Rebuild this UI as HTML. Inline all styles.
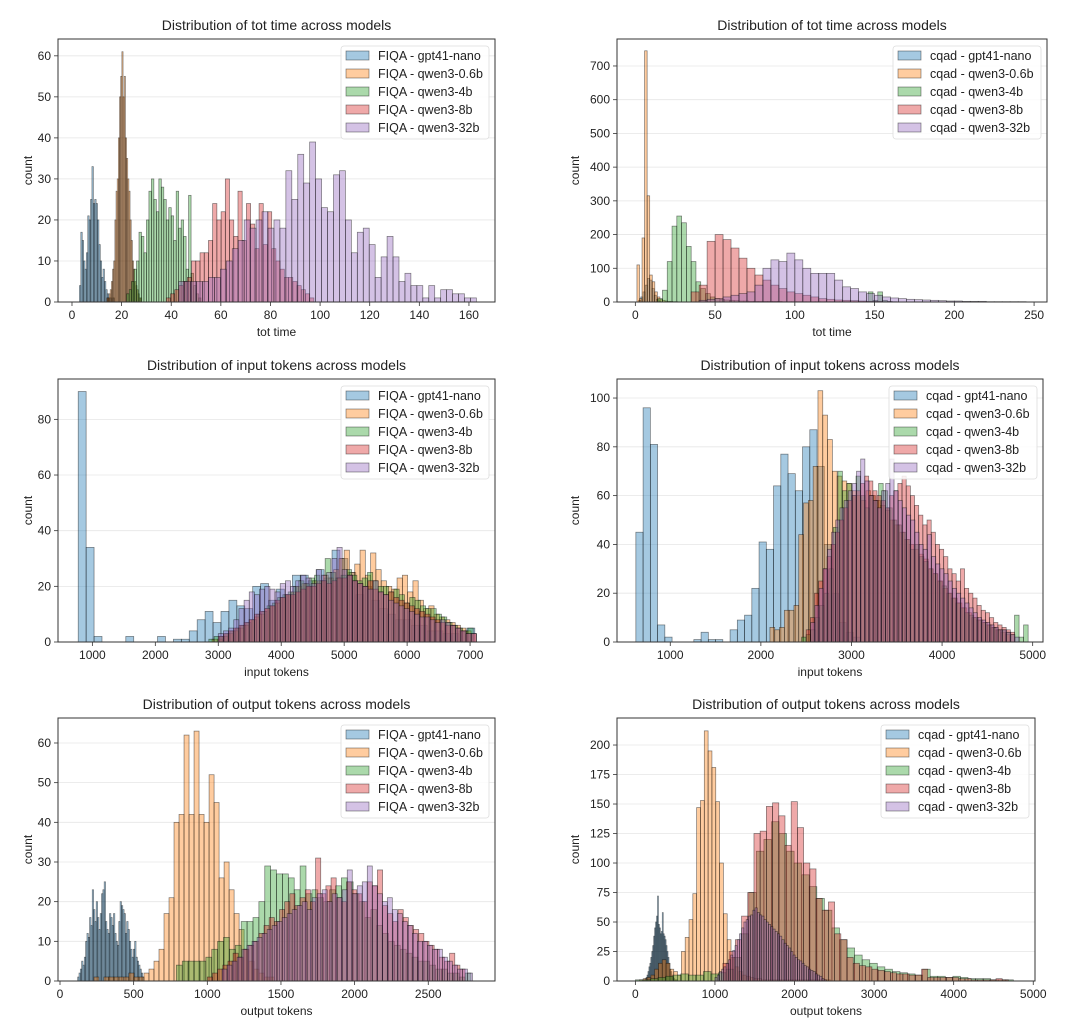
<!DOCTYPE html>
<html><head><meta charset="utf-8">
<style>
html,body{margin:0;padding:0;background:#fff;}
svg{display:block;font-family:"Liberation Sans","DejaVu Sans",sans-serif;}
</style></head>
<body>
<svg id="fig" width="1080" height="1027" viewBox="0 0 1080 1027"></svg>
<script>
// ---- tick labels ----
const p1Ticks = [0,20,40,60,80,100,120,140,160];
const p1YTicks = [0,10,20,30,40,50,60];
const p2Ticks = [0,50,100,150,200,250];
const p2YTicks = [0,100,200,300,400,500,600,700];
const p3Ticks = [1000,2000,3000,4000,5000,6000,7000];
const p3YTicks = [0,20,40,60,80];
const p4Ticks = [1000,2000,3000,4000,5000];
const p4YTicks = [0,20,40,60,80,100];
const p5Ticks = [0,500,1000,1500,2000,2500];
const p5YTicks = [0,10,20,30,40,50,60];
const p6Ticks = [0,1000,2000,3000,4000,5000];
const p6YTicks = [0,25,50,75,100,125,150,175,200];

const models = ["gpt41-nano","qwen3-0.6b","qwen3-4b","qwen3-8b","qwen3-32b"];

// ---- series: bin start, bin width, counts ----
const fiqaTimeStart = [3, 14, 22, 38, 43];
const fiqaTimeWidth = [0.56, 0.47, 1, 1.7, 2.4];
const fiqaTimeNano = [4,17,15,10,8,12,21,20,25,33,24,25,24,20,14,10,6,8,5,3,2,1,1,0,1];
const fiqaTime06 = [1,1,2,3,5,8,10,20,27,30,40,50,55,61,50,55,40,35,30,27,20,15,10,8,5,4,3,2,1,1];
const fiqaTime4 = [2,3,5,8,10,17,16,12,20,27,30,25,22,30,28,25,20,23,21,15,27,18,20,16,8,26,7,4,2,1];
const fiqaTime8 = [1,2,3,4,5,6,10,10,12,12,15,24,20,22,30,20,16,27,15,24,19,13,24,14,22,13,10,8,6,6,5,4,3,2,1];
const fiqaTime32 = [5,5,5,5,5,6,6,8,10,13,15,20,18,20,22,18,20,18,32,25,36,29,39,30,23,22,31,32,20,12,17,18,14,6,11,16,11,5,7,4,4,1,4,1,3,3,2,2,1,1];
const cqadTimeStart = [2, 1, 14, 35, 40];
const cqadTimeWidth = [1.4, 1.6, 3, 5, 5];
const cqadTimeNano = [5,15,30,50,70,65,40,20,8,3];
const cqadTime06 = [110,10,190,745,315,80,60,30,15,8,5,3,2,2,1,1];
const cqadTime4 = [10,35,120,225,255,235,165,120,60,40,25,15,10,8,6,5,4,3,3,2,2,2,2,2,2,2,1,1,1,1,1,1,1,1,1,1,1,1,1,1,1,1,1,1,30,5,30,5,2,1];
const cqadTime8 = [30,50,180,200,185,160,130,100,80,65,50,40,30,25,20,15,10,8,6,5,4,3,2,2,1];
const cqadTime32 = [5,8,10,15,20,25,30,50,100,125,120,145,125,100,85,85,85,65,45,40,30,25,20,15,12,10,8,7,6,5,4,3,3,2,2,2,1,1,1,1,1];
const fiqaInStart = [775, 2900, 2850, 3000, 3000];
const fiqaInWidth = [126, 84, 84, 82, 82];
const fiqaInNano = [90,34,2,0,0,0,2,0,0,0,2,0,1,1,4,8,11,7,11,15,13,12,20,21,15,19,17,24,24,22,26,23,33,30,25,17,20,15,12,10,8,8,6,6,4,4,3,3,4,5];
const fiqaIn06 = [1,1,2,3,4,5,6,8,9,10,12,13,14,16,17,18,20,21,20,22,22,24,23,26,30,33,25,28,33,24,32,26,22,20,19,23,24,18,22,15,12,13,10,9,8,7,6,5,4,3];
const fiqaIn4 = [1,2,2,3,4,5,6,7,8,10,11,13,14,16,17,18,20,22,21,23,24,22,30,25,23,24,26,24,22,23,25,22,20,20,18,19,17,14,16,15,13,12,12,10,9,7,6,5,4,5];
const fiqaIn8 = [2,3,4,5,6,7,8,10,11,12,13,15,16,17,17,18,19,20,20,21,22,21,22,23,23,24,22,21,20,22,19,18,17,18,16,15,14,13,12,11,10,9,8,7,6,6,5,4,3,3];
const fiqaIn32 = [3,4,5,8,12,15,18,17,19,20,19,18,21,22,20,22,24,23,21,26,24,25,30,34,26,24,22,21,20,19,22,18,17,15,14,13,12,11,10,9,9,8,7,8,7,6,5,4,3,3];
const cqadInStart = [620, 2100, 2450, 2500, 2550];
const cqadInWidth = [80, 53, 50, 46, 46];
const cqadInNano = [45,96,81,7,2,0,0,0,1,4,1,1,0,5,9,11,22,41,38,64,77,69,62,80,87,72,40,20,8,4,2];
const cqadIn06 = [6,5,6,13,13,15,44,57,58,72,103,93,83,70,68,66,65,62,60,58,62,60,58,56,54,50,48,45,42,40,38,36,34,30,28,25,22,20,18,16,14,12,10,9,8,7,6,5,4,3];
const cqadIn4 = [2,3,5,10,15,20,30,47,70,62,65,60,68,60,55,60,58,65,62,55,50,48,45,42,38,40,35,33,30,28,25,23,20,18,16,14,12,11,10,9,8,7,6,5,5,4,3,11,2,7];
const cqadIn8 = [5,10,20,25,30,35,40,45,50,55,58,60,62,65,68,66,62,60,58,55,60,62,65,68,64,60,56,52,48,50,45,40,38,35,30,28,25,30,22,20,18,15,13,12,10,8,7,6,5,4];
const cqadIn32 = [8,15,22,30,38,45,50,55,58,62,65,70,75,66,60,58,55,62,65,75,62,58,55,52,50,45,40,38,44,35,32,30,28,25,22,20,18,16,14,12,10,9,8,7,6,5,5,4,3,2];
const fiqaOutStart = [120, 230, 790, 1000, 1100];
const fiqaOutWidth = [9, 34, 40, 35, 34];
const fiqaOutNano = [1,2,3,5,4,6,10,12,11,16,14,23,18,15,20,16,13,17,22,23,25,15,13,12,17,16,14,17,12,10,9,15,20,19,18,17,12,15,13,10,8,6,8,10,6,5,4,3,2,1];
const fiqaOut06 = [1,0,1,1,1,1,1,2,1,1,2,3,5,8,17,21,40,42,62,42,63,42,40,52,45,26,30,23,17,13,8,5,3,2,1,1];
const fiqaOut4 = [4,5,5,5,5,6,8,10,11,8,9,15,15,16,20,29,28,27,27,26,23,29,22,23,21,20,23,24,26,25,22,20,16,18,14,12,10,9,8,7,6,5,5,4,3,3,2,2,1,2];
const fiqaOut8 = [1,2,3,4,5,7,6,8,9,10,12,14,16,15,18,20,22,19,21,23,20,31,22,24,26,21,20,25,23,22,20,25,24,28,19,17,15,18,16,14,13,12,10,9,8,6,5,7,4,3];
const fiqaOut32 = [3,4,5,6,8,9,10,11,12,13,14,15,16,17,18,19,20,18,21,22,23,20,22,21,23,28,22,24,25,29,24,22,20,21,18,17,15,14,12,10,10,9,8,8,6,5,4,3,3,2];
const cqadOutStart = [110, 50, 0, 1100, 1000];
const cqadOutWidth = [12, 48, 95, 78, 28];
const cqadOutNano = [1,2,3,5,8,12,15,20,25,30,38,45,50,55,72,48,45,40,42,58,40,38,35,30,25,20,15,10,8,5,3,2,1,1,1];
const cqadOut06 = [1,2,3,5,10,15,18,15,10,8,5,25,37,52,74,147,153,212,195,181,152,100,57,35,20,12,8,5,4,3,2,2,1,1,1,1,1,1,1,1,1,1,1,1,1,1,1,1,1,1];
const cqadOut4 = [1,1,2,3,4,5,6,5,5,8,6,7,10,20,40,75,110,120,135,125,110,100,90,80,70,60,45,35,28,22,18,15,12,10,8,7,6,5,10,4,4,3,4,3,2,2,2,1,1,1];
const cqadOut8 = [15,25,35,55,75,125,127,148,151,140,115,152,130,100,95,70,60,67,40,35,20,15,13,12,10,9,8,7,6,6,5,5,10,3,3,3,3,3,2,2,1,1,1,1,2,1];
const cqadOut32 = [3,5,8,10,12,15,18,22,26,30,35,40,45,50,52,55,56,60,62,58,56,55,52,50,48,46,44,42,40,38,35,32,30,28,25,22,20,18,17,15,13,12,10,9,8,6,5,4,2,1];

const colors = ["#1f77b4","#ff7f0e","#2ca02c","#d62728","#9467bd"];
const NS = "http://www.w3.org/2000/svg";
const svg = document.getElementById("fig");

const panels = [
 {id:"fiqa-tot-time", title:"Distribution of tot time across models", xlabel:"tot time", prefix:"FIQA",
  L:58,R:495,T:39,B:302, xmin:-5.64,xmax:170.5, ymax:64.1, xt:p1Ticks, yt:p1YTicks,
  start:fiqaTimeStart, width:fiqaTimeWidth, series:[fiqaTimeNano,fiqaTime06,fiqaTime4,fiqaTime8,fiqaTime32], ylabX:28},
 {id:"cqad-tot-time", title:"Distribution of tot time across models", xlabel:"tot time", prefix:"cqad",
  L:617,R:1047,T:39,B:302, xmin:-11.5,xmax:258.1, ymax:780, xt:p2Ticks, yt:p2YTicks,
  start:cqadTimeStart, width:cqadTimeWidth, series:[cqadTimeNano,cqadTime06,cqadTime4,cqadTime8,cqadTime32], ylabX:575},
 {id:"fiqa-input-tokens", title:"Distribution of input tokens across models", xlabel:"input tokens", prefix:"FIQA",
  L:58,R:495,T:379,B:642, xmin:454,xmax:7396, ymax:94.5, xt:p3Ticks, yt:p3YTicks,
  start:fiqaInStart, width:fiqaInWidth, series:[fiqaInNano,fiqaIn06,fiqaIn4,fiqaIn8,fiqaIn32], ylabX:28},
 {id:"cqad-input-tokens", title:"Distribution of input tokens across models", xlabel:"input tokens", prefix:"cqad",
  L:617,R:1043,T:379,B:642, xmin:412,xmax:5114, ymax:107.8, xt:p4Ticks, yt:p4YTicks,
  start:cqadInStart, width:cqadInWidth, series:[cqadInNano,cqadIn06,cqadIn4,cqadIn8,cqadIn32], ylabX:575},
 {id:"fiqa-output-tokens", title:"Distribution of output tokens across models", xlabel:"output tokens", prefix:"FIQA",
  L:58,R:495,T:718,B:981, xmin:-13.6,xmax:2953, ymax:66.3, xt:p5Ticks, yt:p5YTicks,
  start:fiqaOutStart, width:fiqaOutWidth, series:[fiqaOutNano,fiqaOut06,fiqaOut4,fiqaOut8,fiqaOut32], ylabX:28},
 {id:"cqad-output-tokens", title:"Distribution of output tokens across models", xlabel:"output tokens", prefix:"cqad",
  L:617,R:1035,T:718,B:981, xmin:-231,xmax:5022, ymax:222.9, xt:p6Ticks, yt:p6YTicks,
  start:cqadOutStart, width:cqadOutWidth, series:[cqadOutNano,cqadOut06,cqadOut4,cqadOut8,cqadOut32], ylabX:575}
];

function mk(tag, attrs, parent){
  const e = document.createElementNS(NS, tag);
  for (const k in attrs) e.setAttribute(k, attrs[k]);
  parent.appendChild(e);
  return e;
}

panels.forEach(p => {
  const g = mk("g", {}, svg);
  
  
  const xs = v => p.L + (v - p.xmin) / (p.xmax - p.xmin) * (p.R - p.L);
  const ys = v => p.B - v / p.ymax * (p.B - p.T);
  p.yt.forEach(t => {
    const gl = mk("line", {x1:p.L, x2:p.R, y1:ys(t), y2:ys(t), stroke:"#e6e6e6", "stroke-width":0.8}, g);
    
    
  });
  p.series.forEach((arr, si) => {
    const sg = mk("g", {}, g);
    
    
    arr.forEach((c, i) => {
      if (c <= 0) return;
      const x0 = xs(p.start[si] + i * p.width[si]);
      const x1 = xs(p.start[si] + (i + 1) * p.width[si]);
      const r = mk("rect", {x:x0, y:ys(c), width:Math.max(x1 - x0, 0.5), height:p.B - ys(c),
        fill:colors[si], "fill-opacity":0.4, stroke:"#000", "stroke-opacity":0.5, "stroke-width":0.7}, sg);
      
      
    });
  });
  const fr = mk("rect", {x:p.L, y:p.T, width:p.R - p.L, height:p.B - p.T, fill:"none", stroke:"#333", "stroke-width":1}, g);
  
  
  p.xt.forEach(t => {
    const x = xs(t);
    const tl = mk("line", {x1:x, x2:x, y1:p.B, y2:p.B + 4, stroke:"#333", "stroke-width":0.8}, g);
    
    
    const tx = mk("text", {x:x, y:p.B + 17, "text-anchor":"middle", "font-size":12, fill:"#222"}, g);
    tx.textContent = t;
    
    
  });
  p.yt.forEach(t => {
    const y = ys(t);
    const tl = mk("line", {x1:p.L - 4, x2:p.L, y1:y, y2:y, stroke:"#333", "stroke-width":0.8}, g);
    
    
    const tx = mk("text", {x:p.L - 7, y:y + 4, "text-anchor":"end", "font-size":12, fill:"#222"}, g);
    tx.textContent = t;
    
    
  });
  const tt = mk("text", {x:(p.L + p.R) / 2, y:p.T - 9, "text-anchor":"middle", "font-size":14, fill:"#222"}, g);
  tt.textContent = p.title;
  
  
  const xl = mk("text", {x:(p.L + p.R) / 2, y:p.B + 34, "text-anchor":"middle", "font-size":12, fill:"#222"}, g);
  xl.textContent = p.xlabel;
  
  
  const yc = (p.T + p.B) / 2;
  const yl = mk("text", {x:p.ylabX, y:yc, "text-anchor":"middle", "font-size":12, fill:"#222",
    transform:"rotate(-90 " + (p.ylabX) + " " + yc + ")", dy:"4"}, g);
  yl.textContent = "count";
  
  
  const lw = 148, lx = p.R - 6 - lw, ly = p.T + 7;
  const lg = mk("g", {}, g);
  
  
  mk("rect", {x:lx, y:ly, width:lw, height:93, rx:3, fill:"#fff", "fill-opacity":0.85, stroke:"#ddd", "stroke-width":0.8}, lg);
  models.forEach((m, i) => {
    const ey = ly + 9 + i * 18;
    const eg = mk("g", {}, lg);
    
    
    mk("rect", {x:lx + 5, y:ey - 4, width:23, height:9, fill:colors[i], "fill-opacity":0.4, stroke:"#000", "stroke-opacity":0.5, "stroke-width":0.7}, eg);
    const et = mk("text", {x:lx + 37, y:ey + 5, "font-size":12.5, fill:"#222"}, eg);
    et.textContent = p.prefix + " - " + m;
  });
});
</script>
</body></html>
